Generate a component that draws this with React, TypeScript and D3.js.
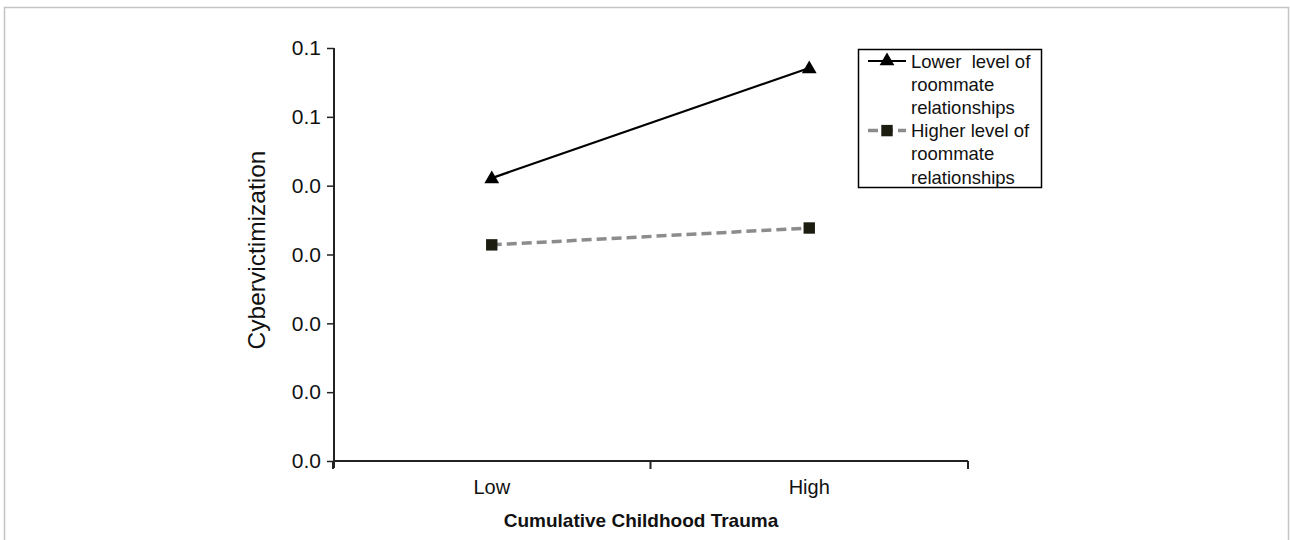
import React, { useEffect, useRef } from 'react';
import * as d3 from 'd3';

const categories = ['Low', 'High'];
const lowerRoommate = [0.0822, 0.1142];
const higherRoommate = [0.0628, 0.0677];
const yTicks = [0, 0.02, 0.04, 0.06, 0.08, 0.1, 0.12];
const yTickLabels = ['0.0', '0.0', '0.0', '0.0', '0.0', '0.1', '0.1'];
const legendLabels = [
  ['Lower  level of', 'roommate', 'relationships'],
  ['Higher level of', 'roommate', 'relationships'],
];

function App() {
  const svgRef = useRef<SVGSVGElement>(null);

  useEffect(() => {
    if (!svgRef.current) return;
    const width = 1290;
    const height = 540;
    const font = "Arial, 'Liberation Sans', sans-serif";

    const svg = d3.select(svgRef.current);
    svg.selectAll('*').remove();
    svg.attr('width', width).attr('height', height).style('font-family', font);

    // outer frame
    svg.append('rect')
      .attr('x', 4.5).attr('y', 7.5)
      .attr('width', 1284).attr('height', 545)
      .attr('fill', 'white')
      .attr('stroke', '#c4c4c4')
      .attr('stroke-width', 1.5);

    const x = d3.scaleBand().domain(categories).range([333, 968]).padding(0);
    const y = d3.scaleLinear().domain([0, 0.12]).range([461, 48]);
    const cx = (d: string) => (x(d) ?? 0) + x.bandwidth() / 2;

    // y axis
    const yAxis = svg.append('g')
      .attr('transform', 'translate(334,0)')
      .call(d3.axisLeft(y)
        .tickValues(yTicks)
        .tickFormat((_, i) => yTickLabels[i])
        .tickSize(7)
        .tickSizeOuter(0)
        .tickPadding(6));
    yAxis.select('.domain').attr('stroke', '#222').attr('stroke-width', 2)
      .attr('d', `M0,${y(0.12)}V${y(0) + 7}`);
    yAxis.selectAll('.tick line').attr('stroke', '#222').attr('stroke-width', 1.5);
    yAxis.selectAll('.tick text')
      .attr('font-size', '21px').attr('font-family', font).attr('fill', '#111');

    // x axis
    const xAxis = svg.append('g');
    xAxis.append('line')
      .attr('x1', 333).attr('x2', 968)
      .attr('y1', 461).attr('y2', 461)
      .attr('stroke', '#222').attr('stroke-width', 2);
    const edges = [...categories.map((c) => x(c) ?? 0), x.range()[1]];
    xAxis.selectAll('line.tick')
      .data(edges)
      .join('line')
      .attr('class', 'tick')
      .attr('x1', (d) => d).attr('x2', (d) => d)
      .attr('y1', 461).attr('y2', 469)
      .attr('stroke', '#222').attr('stroke-width', 2);
    xAxis.selectAll('text')
      .data(categories)
      .join('text')
      .attr('x', (d) => cx(d))
      .attr('y', 494)
      .attr('text-anchor', 'middle')
      .attr('font-size', '20px')
      .attr('fill', '#111')
      .text((d) => d);

    svg.append('text')
      .attr('x', 641).attr('y', 527)
      .attr('text-anchor', 'middle')
      .attr('font-size', '19px')
      .attr('font-weight', 'bold')
      .attr('fill', '#111')
      .text('Cumulative Childhood Trauma');

    svg.append('text')
      .attr('transform', 'translate(265,250) rotate(-90)')
      .attr('text-anchor', 'middle')
      .attr('font-size', '24.5px')
      .attr('fill', '#111')
      .text('Cybervictimization');

    const line = d3.line<number>()
      .x((_, i) => cx(categories[i]))
      .y((d) => y(d));

    const triangle = d3.symbol().type(d3.symbolTriangle).size(95);
    const square = d3.symbol().type(d3.symbolSquare).size(130);

    // higher level series
    svg.append('path')
      .datum(higherRoommate)
      .attr('d', line)
      .attr('fill', 'none')
      .attr('stroke', '#8c8c8c')
      .attr('stroke-width', 3.5)
      .attr('stroke-dasharray', '10,5');
    svg.selectAll('path.sq')
      .data(higherRoommate)
      .join('path')
      .attr('class', 'sq')
      .attr('d', square)
      .attr('transform', (d, i) => `translate(${cx(categories[i])},${y(d)})`)
      .attr('fill', '#1c1c10');

    // lower level series
    svg.append('path')
      .datum(lowerRoommate)
      .attr('d', line)
      .attr('fill', 'none')
      .attr('stroke', '#000')
      .attr('stroke-width', 2.2);
    svg.selectAll('path.tri')
      .data(lowerRoommate)
      .join('path')
      .attr('class', 'tri')
      .attr('d', triangle)
      .attr('transform', (d, i) => `translate(${cx(categories[i])},${y(d) + 1})`)
      .attr('fill', '#000');

    // legend
    const legend = svg.append('g');
    legend.append('rect')
      .attr('x', 858.5).attr('y', 49.5)
      .attr('width', 183).attr('height', 138)
      .attr('fill', 'white')
      .attr('stroke', '#000')
      .attr('stroke-width', 1.5);

    const lh = 23.2;
    legendLabels.forEach((lines, k) => {
      const top = 61 + k * 3 * lh;
      const g = legend.append('g');
      if (k === 0) {
        g.append('line')
          .attr('x1', 868).attr('x2', 906).attr('y1', top).attr('y2', top)
          .attr('stroke', '#000').attr('stroke-width', 2.2);
        g.append('path')
          .attr('d', triangle)
          .attr('transform', `translate(887,${top})`)
          .attr('fill', '#000');
      } else {
        g.append('line')
          .attr('x1', 868).attr('x2', 906).attr('y1', top).attr('y2', top)
          .attr('stroke', '#8c8c8c').attr('stroke-width', 3.5)
          .attr('stroke-dasharray', '10,5');
        g.append('path')
          .attr('d', square)
          .attr('transform', `translate(887,${top})`)
          .attr('fill', '#1c1c10');
      }
      lines.forEach((t, j) => {
        g.append('text')
          .attr('x', 911)
          .attr('y', top + j * lh + 6.5)
          .attr('font-size', '18.5px')
          .attr('fill', '#111')
          .style('white-space', 'pre')
          .text(t);
      });
    });
  }, []);

  return (
    <div style={{ position: 'absolute', left: 0, top: 0 }}>
      <svg ref={svgRef}></svg>
    </div>
  );
}

export default App;
